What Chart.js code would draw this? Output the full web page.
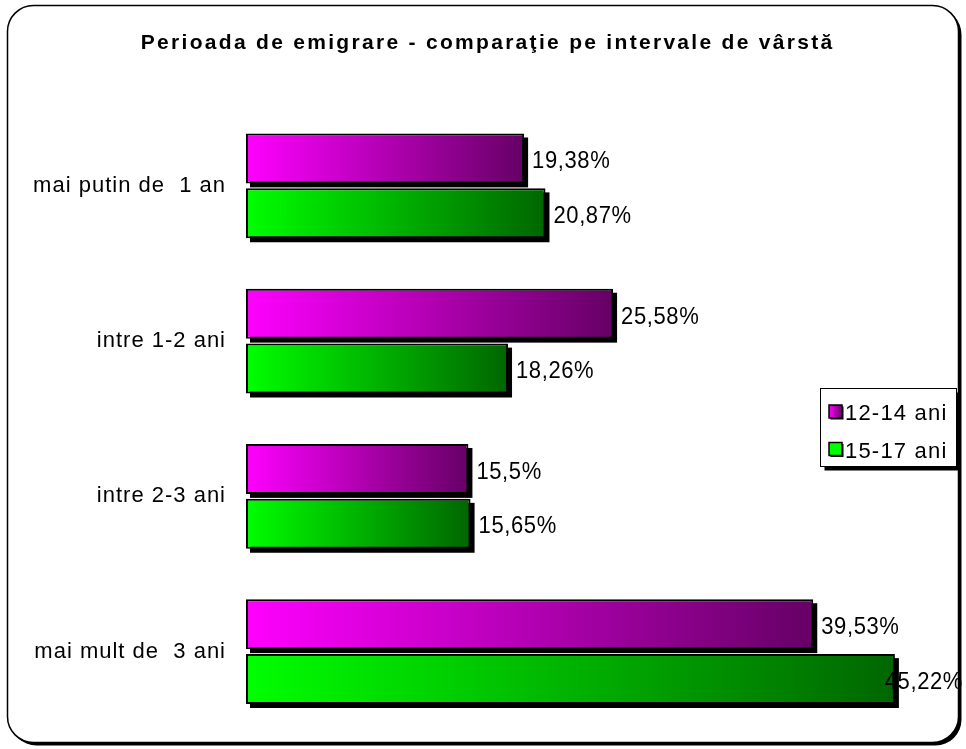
<!DOCTYPE html>
<html>
<head>
<meta charset="utf-8">
<script src="https://cdn.jsdelivr.net/npm/chart.js@4/dist/chart.umd.min.js"></script>
<style>
  html, body { margin: 0; padding: 0; background: #ffffff; }
  #wrap { width: 966px; height: 749px; position: relative; }
</style>
</head>
<body>
<div id="wrap"><canvas id="c" width="966" height="749"></canvas></div>
<script>
const titleText = 'Perioada de emigrare - comparaţie pe intervale de vârstă';
const categories = ['mai putin de  1 an', 'intre 1-2 ani', 'intre 2-3 ani', 'mai mult de  3 ani'];
const seriesNames = ['12-14 ani', '15-17 ani'];
const values1214 = [19.38, 25.58, 15.5, 39.53];
const values1517 = [20.87, 18.26, 15.65, 45.22];
const gradStops = [['#ff00ff', '#660066'], ['#00ff00', '#006600']];

const FONT = "'Liberation Sans', Arial, sans-serif";
const SPACING = '1px';

function barGradient(ctx, i) {
  const chart = ctx.chart;
  const stops = gradStops[i];
  if (!chart.chartArea || !chart.scales.x) return stops[0];
  const x0 = chart.scales.x.getPixelForValue(0);
  const x1 = chart.scales.x.getPixelForValue(ctx.raw == null ? 1 : ctx.raw);
  const g = chart.ctx.createLinearGradient(x0, 0, Math.max(x1, x0 + 1), 0);
  g.addColorStop(0, stops[0]);
  g.addColorStop(1, stops[1]);
  return g;
}

const spacingPlugin = {
  id: 'spacing',
  beforeUpdate(chart) { chart.ctx.letterSpacing = SPACING; },
  beforeLayout(chart) { chart.ctx.letterSpacing = SPACING; },
  beforeDraw(chart) { chart.ctx.letterSpacing = SPACING; }
};

function roundRect(ctx, x, y, w, h, r) {
  ctx.beginPath();
  ctx.moveTo(x + r, y);
  ctx.lineTo(x + w - r, y);
  ctx.arcTo(x + w, y, x + w, y + r, r);
  ctx.lineTo(x + w, y + h - r);
  ctx.arcTo(x + w, y + h, x + w - r, y + h, r);
  ctx.lineTo(x + r, y + h);
  ctx.arcTo(x, y + h, x, y + h - r, r);
  ctx.lineTo(x, y + r);
  ctx.arcTo(x, y, x + r, y, r);
  ctx.closePath();
}

const framePlugin = {
  id: 'frame',
  beforeDraw(chart) {
    const ctx = chart.ctx;
    ctx.save();
    ctx.fillStyle = '#ffffff';
    ctx.fillRect(0, 0, chart.width, chart.height);
    ctx.fillStyle = '#000';
    roundRect(ctx, 10.5, 8.5, 951, 737, 26);
    ctx.fill();
    ctx.fillStyle = '#fff';
    roundRect(ctx, 7.5, 5.5, 951, 737, 26);
    ctx.fill();
    ctx.lineWidth = 1.5;
    ctx.strokeStyle = '#000';
    ctx.stroke();
    // title
    ctx.letterSpacing = '2.3px';
    ctx.font = 'bold 21px ' + FONT;
    ctx.fillStyle = '#000';
    ctx.textAlign = 'left';
    ctx.textBaseline = 'alphabetic';
    const w = ctx.measureText(titleText).width - 2.3;
    ctx.fillText(titleText, 486.5 - w / 2, 48.7);
    ctx.restore();
  }
};

const shadowPlugin = {
  id: 'barShadow',
  beforeDatasetsDraw(chart) {
    const ctx = chart.ctx;
    ctx.save();
    ctx.fillStyle = '#000';
    chart.data.datasets.forEach((ds, di) => {
      const meta = chart.getDatasetMeta(di);
      meta.data.forEach((el) => {
        const p = el.getProps(['x', 'y', 'base', 'height'], true);
        const left = Math.min(p.base, p.x), right = Math.max(p.base, p.x);
        ctx.fillRect(left + 4, p.y - p.height / 2 + 4, right - left, p.height);
      });
    });
    ctx.restore();
  }
};

const labelPlugin = {
  id: 'valueLabels',
  afterDatasetsDraw(chart) {
    const ctx = chart.ctx;
    ctx.save();
    ctx.letterSpacing = '0.6px';
    ctx.font = '22px ' + FONT;
    ctx.fillStyle = '#000';
    ctx.textBaseline = 'alphabetic';
    ctx.textAlign = 'left';
    const sy = 1.12;
    chart.data.datasets.forEach((ds, di) => {
      const meta = chart.getDatasetMeta(di);
      meta.data.forEach((el, i) => {
        const txt = String(ds.data[i]).replace('.', ',') + '%';
        const w = ctx.measureText(txt).width;
        let x = el.x + 8;
        if (x + w > 963) x = 963 - w;
        const by = el.y + (di === 0 ? 10 : 9.5);
        ctx.save();
        ctx.translate(x, by);
        ctx.scale(1, sy);
        ctx.fillText(txt, 0, 0);
        ctx.restore();
      });
    });
    ctx.restore();
  }
};

const legendPlugin = {
  id: 'boxLegend',
  afterDraw(chart) {
    const ctx = chart.ctx;
    ctx.save();
    ctx.letterSpacing = '1.2px';
    const bx = 820.5, by = 388.5, bw = 136, bh = 78;
    ctx.fillStyle = '#000';
    ctx.fillRect(bx + 4, by + 4, bw, bh);
    ctx.fillStyle = '#fff';
    ctx.fillRect(bx, by, bw, bh);
    ctx.strokeStyle = '#000';
    ctx.lineWidth = 1;
    ctx.strokeRect(bx, by, bw, bh);
    ctx.font = '22px ' + FONT;
    ctx.textBaseline = 'alphabetic';
    ctx.textAlign = 'left';
    chart.data.datasets.forEach((ds, i) => {
      const sy = 405 + i * 37.5, sx = 829;
      const g = ctx.createLinearGradient(sx, 0, sx + 13, 0);
      g.addColorStop(0, gradStops[i][0]);
      g.addColorStop(1, gradStops[i][1]);
      ctx.fillStyle = '#000';
      ctx.fillRect(sx + 1.5, sy + 1.5, 13, 13);
      ctx.fillStyle = i === 0 ? g : gradStops[i][0];
      ctx.fillRect(sx, sy, 13, 13);
      ctx.lineWidth = 1.5;
      ctx.strokeRect(sx, sy, 13, 13);
      ctx.fillStyle = '#000';
      ctx.fillText(ds.label, 845, 420 + i * 37.5);
    });
    ctx.restore();
  }
};

new Chart(document.getElementById('c'), {
  type: 'bar',
  data: {
    labels: categories,
    datasets: [
      {
        label: seriesNames[0],
        data: values1214,
        backgroundColor: (c) => barGradient(c, 0),
        borderColor: '#000',
        borderWidth: 2,
        borderSkipped: false,
        barPercentage: 0.909,
        categoryPercentage: 0.707
      },
      {
        label: seriesNames[1],
        data: values1517,
        backgroundColor: (c) => barGradient(c, 1),
        borderColor: '#000',
        borderWidth: 2,
        borderSkipped: false,
        barPercentage: 0.909,
        categoryPercentage: 0.707
      }
    ]
  },
  options: {
    indexAxis: 'y',
    responsive: false,
    animation: false,
    layout: { padding: { left: 0, right: 2.5, top: 108.25, bottom: 19.75 } },
    plugins: {
      legend: { display: false },
      tooltip: { enabled: false },
      title: { display: false }
    },
    scales: {
      x: {
        display: false,
        min: 0,
        max: 50
      },
      y: {
        grid: { display: false, drawTicks: false },
        border: { display: false },
        ticks: {
          color: '#000',
          padding: 20,
          font: { family: FONT, size: 22 }
        },
        afterFit(scale) {
          scale.width = 246;
          scale.paddingTop = 0;
          scale.paddingBottom = 0;
        }
      }
    }
  },
  plugins: [spacingPlugin, framePlugin, shadowPlugin, labelPlugin, legendPlugin]
});
</script>
</body>
</html>
